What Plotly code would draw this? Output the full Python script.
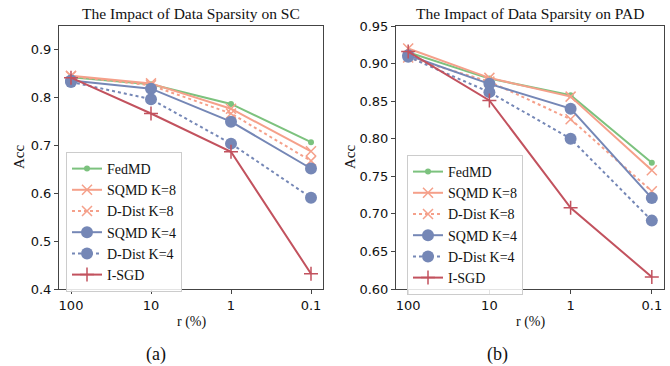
import plotly.graph_objects as go

r_labels = ["100", "10", "1", "0.1"]
series_names = ["FedMD", "SQMD K=8", "D-Dist K=8", "SQMD K=4", "D-Dist K=4", "I-SGD"]

sc_fedmd = [0.843, 0.828, 0.787, 0.707]
sc_sqmd8 = [0.846, 0.830, 0.777, 0.688]
sc_ddist8 = [0.845, 0.826, 0.767, 0.668]
sc_sqmd4 = [0.836, 0.819, 0.750, 0.652]
sc_ddist4 = [0.833, 0.797, 0.704, 0.591]
sc_isgd = [0.842, 0.767, 0.687, 0.432]

pad_fedmd = [0.915, 0.880, 0.858, 0.768]
pad_sqmd8 = [0.920, 0.881, 0.856, 0.758]
pad_ddist8 = [0.908, 0.876, 0.826, 0.730]
pad_sqmd4 = [0.911, 0.873, 0.840, 0.721]
pad_ddist4 = [0.909, 0.862, 0.800, 0.691]
pad_isgd = [0.916, 0.851, 0.708, 0.616]

W, H = 670, 366
GREEN = "#7cc27e"
SALMON = "#f5a08a"
BLUE = "#7587b6"
RED = "#c2525e"
SERIF = "Liberation Serif, Times New Roman, DejaVu Serif, serif"

styles = [
    dict(color=GREEN, dash="solid", symbol="circle", size=6, open=False),
    dict(color=SALMON, dash="solid", symbol="x-thin", size=10, open=True),
    dict(color=SALMON, dash="dot", symbol="x-thin", size=10, open=True),
    dict(color=BLUE, dash="solid", symbol="circle", size=12, open=False),
    dict(color=BLUE, dash="dot", symbol="circle", size=12, open=False),
    dict(color=RED, dash="solid", symbol="cross-thin", size=10, open=True),
]

sc_data = [sc_fedmd, sc_sqmd8, sc_ddist8, sc_sqmd4, sc_ddist4, sc_isgd]
pad_data = [pad_fedmd, pad_sqmd8, pad_ddist8, pad_sqmd4, pad_ddist4, pad_isgd]

xpos = list(range(len(r_labels)))
fig = go.Figure()

def add(data, xa, ya, leg):
    for name, vals, st in zip(series_names, data, styles):
        marker = dict(symbol=st["symbol"], size=st["size"], color=st["color"])
        if st["open"]:
            marker["line"] = dict(color=st["color"], width=1.5)
        fig.add_trace(go.Scatter(
            x=xpos, y=vals, name=name, mode="lines+markers",
            line=dict(color=st["color"], width=2, dash=st["dash"]),
            marker=marker, xaxis=xa, yaxis=ya, legend=leg,
        ))

add(sc_data, "x", "y", "legend")
add(pad_data, "x2", "y2", "legend2")

ydom = [1 - 289 / H, 1 - 26 / H]
axcommon = dict(showline=True, mirror=True, linecolor="#444", linewidth=1,
                ticks="outside", ticklen=4, tickcolor="#444", showgrid=False,
                zeroline=False, automargin=False,
                tickfont=dict(family="DejaVu Sans", size=13, color="#111"))

legcommon = dict(xanchor="left", yanchor="top",
                 bgcolor="rgba(255,255,255,0.85)", bordercolor="#ccc", borderwidth=1,
                 font=dict(family=SERIF, size=14, color="#111"),
                 tracegroupgap=0, itemwidth=30)

fig.update_layout(
    width=W, height=H, margin=dict(l=0, r=0, t=0, b=0, autoexpand=False),
    paper_bgcolor="white", plot_bgcolor="white",
    xaxis=dict(domain=[59 / W, 323 / W], range=[-0.15, 3.15], tickvals=xpos,
               ticktext=r_labels, anchor="y", **axcommon),
    yaxis=dict(domain=ydom, range=[0.4, 0.95], tickvals=[0.4, 0.5, 0.6, 0.7, 0.8, 0.9],
               tickformat=".1f", anchor="x", **axcommon),
    xaxis2=dict(domain=[396 / W, 664 / W], range=[-0.15, 3.15], tickvals=xpos,
                ticktext=r_labels, anchor="y2", **axcommon),
    yaxis2=dict(domain=ydom, range=[0.6, 0.95],
                tickvals=[0.6, 0.65, 0.7, 0.75, 0.8, 0.85, 0.9, 0.95],
                tickformat=".2f", anchor="x2", **axcommon),
    legend=dict(x=66 / W, y=1 - 152 / H, **legcommon),
    legend2=dict(x=407 / W, y=1 - 155 / H, **legcommon),
    showlegend=True,
)

ann = [
    ("The Impact of Data Sparsity on SC", 191, 13, 15.5, 0),
    ("The Impact of Data Sparsity on PAD", 530, 13, 15.5, 0),
    ("r (%)", 191, 322, 14, 0),
    ("r (%)", 530, 322, 14, 0),
    ("(a)", 156, 354, 18, 0),
    ("(b)", 497, 354, 18, 0),
    ("Acc", 19, 157, 15, -90),
    ("Acc", 350, 157, 15, -90),
]
for text, px, py, size, ang in ann:
    fig.add_annotation(text=text, x=px / W, y=1 - py / H, xref="paper", yref="paper",
                       showarrow=False, xanchor="center", yanchor="middle",
                       textangle=ang, font=dict(size=size, family=SERIF, color="#111"))

fig.write_html("out.html", config={"displayModeBar": False},
               post_script="document.body.style.margin='0';document.body.style.overflow='hidden';")
